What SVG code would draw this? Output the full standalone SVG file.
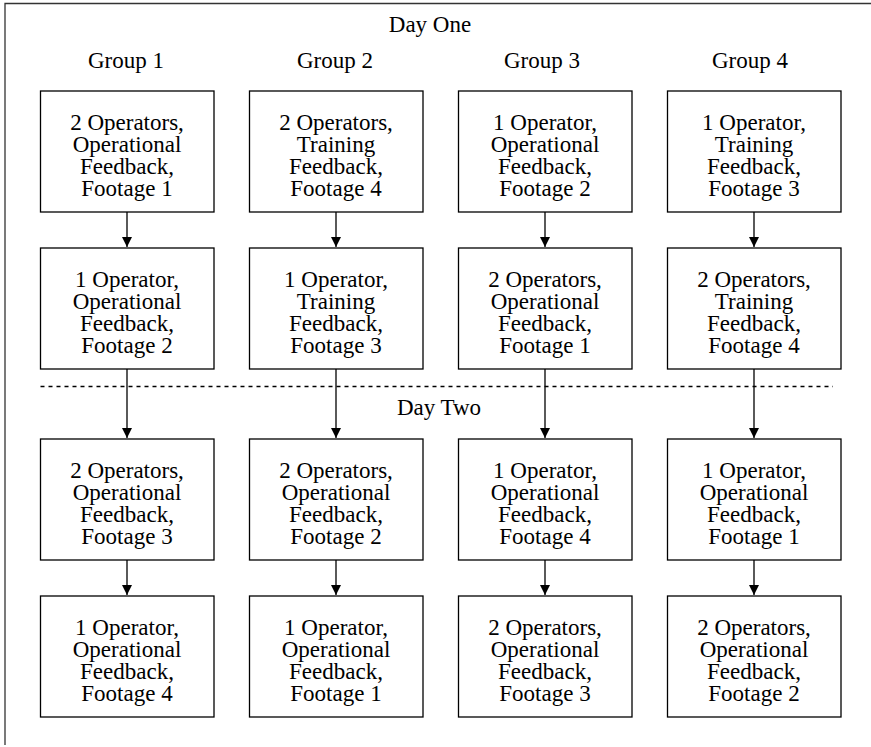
<svg xmlns="http://www.w3.org/2000/svg" width="871" height="747" viewBox="0 0 871 747">
<style>
  text { font-family: "Liberation Serif", "Times New Roman", serif; font-size: 23px; fill: #000; text-anchor: middle; }
  .box rect { fill: #fff; stroke: #000; stroke-width: 1.3; }
  .conn line { stroke: #000; stroke-width: 1.3; }
  .frame { fill: none; stroke: #333; stroke-width: 1.3; }
</style>
<defs>
  <marker id="ah" viewBox="0 0 10 12" refX="10" refY="6" markerWidth="10" markerHeight="12" markerUnits="userSpaceOnUse" orient="auto">
    <path d="M0,1 L10,6 L0,11 Z" fill="#000"/>
  </marker>
</defs>
<rect width="871" height="747" fill="#fff"/>
<path class="frame" d="M5,745 L5,3.5 L871,3.5"/>

<g id="labels">
  <text x="430" y="32">Day One</text>
  <text x="126" y="68">Group 1</text>
  <text x="335" y="68">Group 2</text>
  <text x="542" y="68">Group 3</text>
  <text x="750" y="68">Group 4</text>
  <text x="439" y="415">Day Two</text>
</g>

<g id="connectors" class="conn">
  <line x1="40.5" y1="386.5" x2="833" y2="386.5" stroke-dasharray="4,4"/>
  <line x1="127" y1="212" x2="127" y2="247" marker-end="url(#ah)"/>
  <line x1="336" y1="212" x2="336" y2="247" marker-end="url(#ah)"/>
  <line x1="545" y1="212" x2="545" y2="247" marker-end="url(#ah)"/>
  <line x1="754" y1="212" x2="754" y2="247" marker-end="url(#ah)"/>
  <line x1="127" y1="369" x2="127" y2="438" marker-end="url(#ah)"/>
  <line x1="336" y1="369" x2="336" y2="438" marker-end="url(#ah)"/>
  <line x1="545" y1="369" x2="545" y2="438" marker-end="url(#ah)"/>
  <line x1="754" y1="369" x2="754" y2="438" marker-end="url(#ah)"/>
  <line x1="127" y1="560" x2="127" y2="595" marker-end="url(#ah)"/>
  <line x1="336" y1="560" x2="336" y2="595" marker-end="url(#ah)"/>
  <line x1="545" y1="560" x2="545" y2="595" marker-end="url(#ah)"/>
  <line x1="754" y1="560" x2="754" y2="595" marker-end="url(#ah)"/>
</g>

<g id="n11" class="box"><rect x="40.5" y="91" width="173.5" height="121"/>
  <text x="127" y="130">2 Operators,<tspan x="127" dy="22">Operational</tspan><tspan x="127" dy="22">Feedback,</tspan><tspan x="127" dy="22">Footage 1</tspan></text></g>
<g id="n12" class="box"><rect x="249.5" y="91" width="173.5" height="121"/>
  <text x="336" y="130">2 Operators,<tspan x="336" dy="22">Training</tspan><tspan x="336" dy="22">Feedback,</tspan><tspan x="336" dy="22">Footage 4</tspan></text></g>
<g id="n13" class="box"><rect x="458.5" y="91" width="173.5" height="121"/>
  <text x="545" y="130">1 Operator,<tspan x="545" dy="22">Operational</tspan><tspan x="545" dy="22">Feedback,</tspan><tspan x="545" dy="22">Footage 2</tspan></text></g>
<g id="n14" class="box"><rect x="667.5" y="91" width="173.5" height="121"/>
  <text x="754" y="130">1 Operator,<tspan x="754" dy="22">Training</tspan><tspan x="754" dy="22">Feedback,</tspan><tspan x="754" dy="22">Footage 3</tspan></text></g>

<g id="n21" class="box"><rect x="40.5" y="248" width="173.5" height="121"/>
  <text x="127" y="287">1 Operator,<tspan x="127" dy="22">Operational</tspan><tspan x="127" dy="22">Feedback,</tspan><tspan x="127" dy="22">Footage 2</tspan></text></g>
<g id="n22" class="box"><rect x="249.5" y="248" width="173.5" height="121"/>
  <text x="336" y="287">1 Operator,<tspan x="336" dy="22">Training</tspan><tspan x="336" dy="22">Feedback,</tspan><tspan x="336" dy="22">Footage 3</tspan></text></g>
<g id="n23" class="box"><rect x="458.5" y="248" width="173.5" height="121"/>
  <text x="545" y="287">2 Operators,<tspan x="545" dy="22">Operational</tspan><tspan x="545" dy="22">Feedback,</tspan><tspan x="545" dy="22">Footage 1</tspan></text></g>
<g id="n24" class="box"><rect x="667.5" y="248" width="173.5" height="121"/>
  <text x="754" y="287">2 Operators,<tspan x="754" dy="22">Training</tspan><tspan x="754" dy="22">Feedback,</tspan><tspan x="754" dy="22">Footage 4</tspan></text></g>

<g id="n31" class="box"><rect x="40.5" y="439" width="173.5" height="121"/>
  <text x="127" y="478">2 Operators,<tspan x="127" dy="22">Operational</tspan><tspan x="127" dy="22">Feedback,</tspan><tspan x="127" dy="22">Footage 3</tspan></text></g>
<g id="n32" class="box"><rect x="249.5" y="439" width="173.5" height="121"/>
  <text x="336" y="478">2 Operators,<tspan x="336" dy="22">Operational</tspan><tspan x="336" dy="22">Feedback,</tspan><tspan x="336" dy="22">Footage 2</tspan></text></g>
<g id="n33" class="box"><rect x="458.5" y="439" width="173.5" height="121"/>
  <text x="545" y="478">1 Operator,<tspan x="545" dy="22">Operational</tspan><tspan x="545" dy="22">Feedback,</tspan><tspan x="545" dy="22">Footage 4</tspan></text></g>
<g id="n34" class="box"><rect x="667.5" y="439" width="173.5" height="121"/>
  <text x="754" y="478">1 Operator,<tspan x="754" dy="22">Operational</tspan><tspan x="754" dy="22">Feedback,</tspan><tspan x="754" dy="22">Footage 1</tspan></text></g>

<g id="n41" class="box"><rect x="40.5" y="596" width="173.5" height="121"/>
  <text x="127" y="635">1 Operator,<tspan x="127" dy="22">Operational</tspan><tspan x="127" dy="22">Feedback,</tspan><tspan x="127" dy="22">Footage 4</tspan></text></g>
<g id="n42" class="box"><rect x="249.5" y="596" width="173.5" height="121"/>
  <text x="336" y="635">1 Operator,<tspan x="336" dy="22">Operational</tspan><tspan x="336" dy="22">Feedback,</tspan><tspan x="336" dy="22">Footage 1</tspan></text></g>
<g id="n43" class="box"><rect x="458.5" y="596" width="173.5" height="121"/>
  <text x="545" y="635">2 Operators,<tspan x="545" dy="22">Operational</tspan><tspan x="545" dy="22">Feedback,</tspan><tspan x="545" dy="22">Footage 3</tspan></text></g>
<g id="n44" class="box"><rect x="667.5" y="596" width="173.5" height="121"/>
  <text x="754" y="635">2 Operators,<tspan x="754" dy="22">Operational</tspan><tspan x="754" dy="22">Feedback,</tspan><tspan x="754" dy="22">Footage 2</tspan></text></g>
</svg>
